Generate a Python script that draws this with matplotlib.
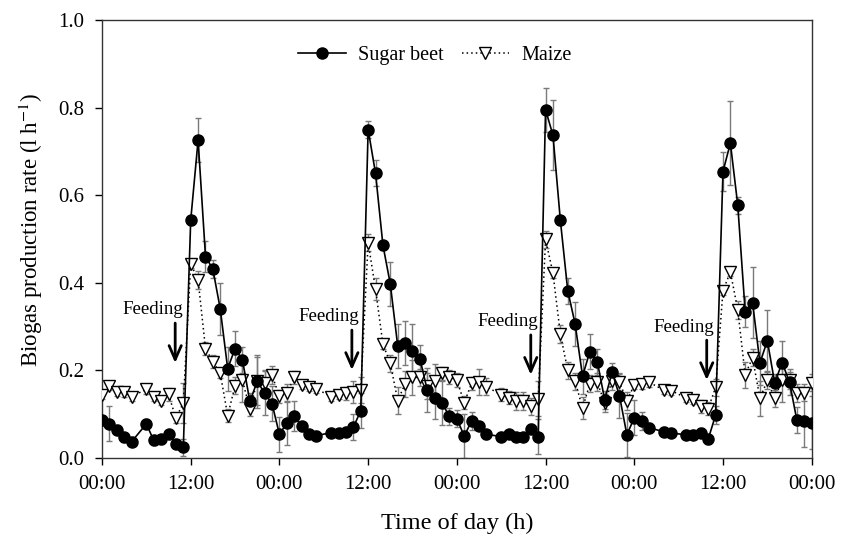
import numpy as np
import matplotlib
matplotlib.use('Agg')
import matplotlib.pyplot as plt

plt.rcParams['font.family'] = ['Liberation Serif', 'DejaVu Serif']
plt.rcParams['mathtext.fontset'] = 'stix'

# Sugar beet: hour after start, rate (l/h), error
beet_h = [0, 1, 2, 3, 4, 6, 7, 8, 9, 10, 11, 12, 13, 14, 15, 16, 17, 18, 19, 20, 21, 22, 23,
          24, 25, 26, 27, 28, 29, 31, 32, 33, 34, 35, 36, 37, 38, 39, 40, 41, 42, 43, 44, 45, 46, 47,
          48, 49, 50, 51, 52, 54, 55, 56, 57, 58, 59, 60, 61, 62, 63, 64, 65, 66, 67, 68, 69, 70, 71,
          72, 73, 74, 76, 77, 79, 80, 81, 82, 83, 84, 85, 86, 87, 88, 89, 90, 91, 92, 93, 94, 95, 96]
beet_v = [0.087, 0.078, 0.065, 0.047, 0.037, 0.078, 0.040, 0.043, 0.055, 0.033, 0.024, 0.543,
          0.726, 0.460, 0.431, 0.340, 0.204, 0.250, 0.224, 0.129, 0.175, 0.148, 0.124,
          0.054, 0.080, 0.096, 0.072, 0.055, 0.051, 0.058, 0.056, 0.060, 0.070, 0.108, 0.750,
          0.650, 0.486, 0.397, 0.256, 0.262, 0.245, 0.227, 0.155, 0.138, 0.125, 0.095,
          0.090, 0.050, 0.085, 0.073, 0.054, 0.049, 0.055, 0.048, 0.048, 0.067, 0.049, 0.795,
          0.737, 0.543, 0.382, 0.306, 0.187, 0.243, 0.220, 0.133, 0.196, 0.142, 0.053,
          0.092, 0.084, 0.069, 0.060, 0.057, 0.053, 0.053, 0.058, 0.043, 0.098, 0.654, 0.719,
          0.577, 0.334, 0.355, 0.217, 0.268, 0.171, 0.218, 0.173, 0.086, 0.085, 0.081]
beet_e = [0.01, 0.04, 0.01, 0.01, 0.01, 0.01, 0.01, 0.01, 0.01, 0.01, 0.02, 0.01,
          0.05, 0.035, 0.02, 0.06, 0.05, 0.04, 0.03, 0.02, 0.06, 0.05, 0.04,
          0.04, 0.05, 0.035, 0.01, 0.01, 0.01, 0.01, 0.01, 0.01, 0.03, 0.04, 0.02,
          0.03, 0.01, 0.05, 0.05, 0.05, 0.06, 0.03, 0.05, 0.05, 0.05, 0.02,
          0.02, 0.05, 0.02, 0.01, 0.01, 0.01, 0.01, 0.01, 0.01, 0.01, 0.04, 0.05,
          0.08, 0.01, 0.03, 0.05, 0.04, 0.04, 0.03, 0.02, 0.02, 0.05, 0.05,
          0.04, 0.02, 0.01, 0.01, 0.01, 0.01, 0.01, 0.01, 0.01, 0.02, 0.045, 0.095,
          0.02, 0.035, 0.08, 0.05, 0.07, 0.02, 0.05, 0.03, 0.03, 0.06, 0.06]

# Maize
maize_h = beet_h
maize_v = [0.144, 0.165, 0.151, 0.150, 0.140, 0.157, 0.140, 0.131, 0.145, 0.091, 0.126, 0.444,
           0.406, 0.250, 0.220, 0.193, 0.097, 0.165, 0.177, 0.112, 0.175, 0.171, 0.189,
           0.141, 0.148, 0.184, 0.167, 0.162, 0.158, 0.140, 0.144, 0.148, 0.150, 0.155, 0.492,
           0.385, 0.260, 0.216, 0.131, 0.169, 0.184, 0.184, 0.165, 0.175, 0.193, 0.185,
           0.178, 0.126, 0.171, 0.173, 0.163, 0.144, 0.138, 0.130, 0.130, 0.118, 0.135, 0.499,
           0.422, 0.283, 0.200, 0.175, 0.114, 0.170, 0.173, 0.125, 0.176, 0.174, 0.130,
           0.167, 0.168, 0.173, 0.155, 0.154, 0.137, 0.133, 0.118, 0.113, 0.161, 0.382, 0.425,
           0.338, 0.190, 0.229, 0.136, 0.177, 0.136, 0.178, 0.177, 0.148, 0.149, 0.172]
maize_e = [0.01, 0.01, 0.01, 0.01, 0.01, 0.01, 0.01, 0.01, 0.015, 0.01, 0.045, 0.01,
           0.02, 0.015, 0.015, 0.01, 0.015, 0.02, 0.05, 0.015, 0.055, 0.03, 0.02,
           0.015, 0.02, 0.015, 0.01, 0.01, 0.01, 0.01, 0.01, 0.015, 0.025, 0.03, 0.02,
           0.025, 0.01, 0.02, 0.03, 0.03, 0.04, 0.02, 0.03, 0.04, 0.015, 0.015,
           0.015, 0.015, 0.015, 0.03, 0.02, 0.015, 0.015, 0.02, 0.02, 0.02, 0.04, 0.02,
           0.01, 0.02, 0.02, 0.02, 0.025, 0.02, 0.02, 0.02, 0.02, 0.02, 0.02,
           0.01, 0.01, 0.01, 0.01, 0.01, 0.01, 0.01, 0.015, 0.015, 0.02, 0.01, 0.01,
           0.02, 0.03, 0.02, 0.04, 0.02, 0.02, 0.05, 0.02, 0.02, 0.02, 0.02]

# feeding times (h) and arrow tops
feed_h = [9.9, 33.8, 58.0, 81.8]
feed_top = [0.308, 0.292, 0.281, 0.269]

xticks = [0, 12, 24, 36, 48, 60, 72, 84, 96]
xtick_labels = ['00:00', '12:00', '00:00', '12:00', '00:00', '12:00', '00:00', '12:00', '00:00']

fig = plt.figure(figsize=(8.43, 5.37), dpi=100)
ax = fig.add_axes([102 / 843, 1 - 458 / 537, 709.7 / 843, 438 / 537])

ecol = '#7a7a7a'
ax.errorbar(maize_h, maize_v, yerr=maize_e, fmt='none', ecolor=ecol, elinewidth=1,
            capsize=2.5, capthick=1, zorder=1)
ax.errorbar(beet_h, beet_v, yerr=beet_e, fmt='none', ecolor=ecol, elinewidth=1,
            capsize=2.5, capthick=1, zorder=1)

ax.plot(maize_h, maize_v, color='black', lw=1.1, ls=(0, (1, 2)), marker='v',
        ms=8.5, mfc='white', mec='black', mew=1, label='Maize', zorder=3)
ax.plot(beet_h, beet_v, color='black', lw=1.2, ls='-', marker='o',
        ms=8, mfc='black', mec='black', label='Sugar beet', zorder=4)

for fx, ft in zip(feed_h, feed_top):
    ax.annotate('', xy=(fx, ft - 0.091), xytext=(fx, ft),
                arrowprops=dict(arrowstyle='->, head_length=0.5, head_width=0.22',
                                lw=2, color='black', mutation_scale=20,
                                shrinkA=0, shrinkB=0))
    ax.text(fx - 3.05, ft + 0.03, 'Feeding', ha='center', va='center', fontsize=13.6)

ax.set_xlim(0, 96)
ax.set_ylim(0, 1.0)
ax.set_xticks(xticks)
ax.set_xticklabels(xtick_labels)
ax.set_yticks(np.arange(0, 1.01, 0.2))
ax.set_yticklabels(['%.1f' % v for v in np.arange(0, 1.01, 0.2)])
ax.tick_params(axis='x', direction='out', length=5, width=1, labelsize=15, pad=7)
ax.tick_params(axis='y', direction='out', length=5, width=1, labelsize=15, pad=8)
for s in ax.spines.values():
    s.set_linewidth(1)
    s.set_color('#333333')

ax.set_xlabel('Time of day (h)', fontsize=17.5)
ax.xaxis.set_label_coords(0.5, -0.125)
ax.set_ylabel('Biogas production rate (l h$^{-1}$)', fontsize=16.5)
ax.yaxis.set_label_coords(-0.08, 0.52)

h, l = ax.get_legend_handles_labels()
ax.legend(h[::-1], l[::-1], loc='center', bbox_to_anchor=(0.469, 0.92), ncol=2,
          frameon=False, fontsize=14.5, handlelength=2.35, handletextpad=0.6,
          columnspacing=0.9)

fig.savefig('out.png', dpi=100)
